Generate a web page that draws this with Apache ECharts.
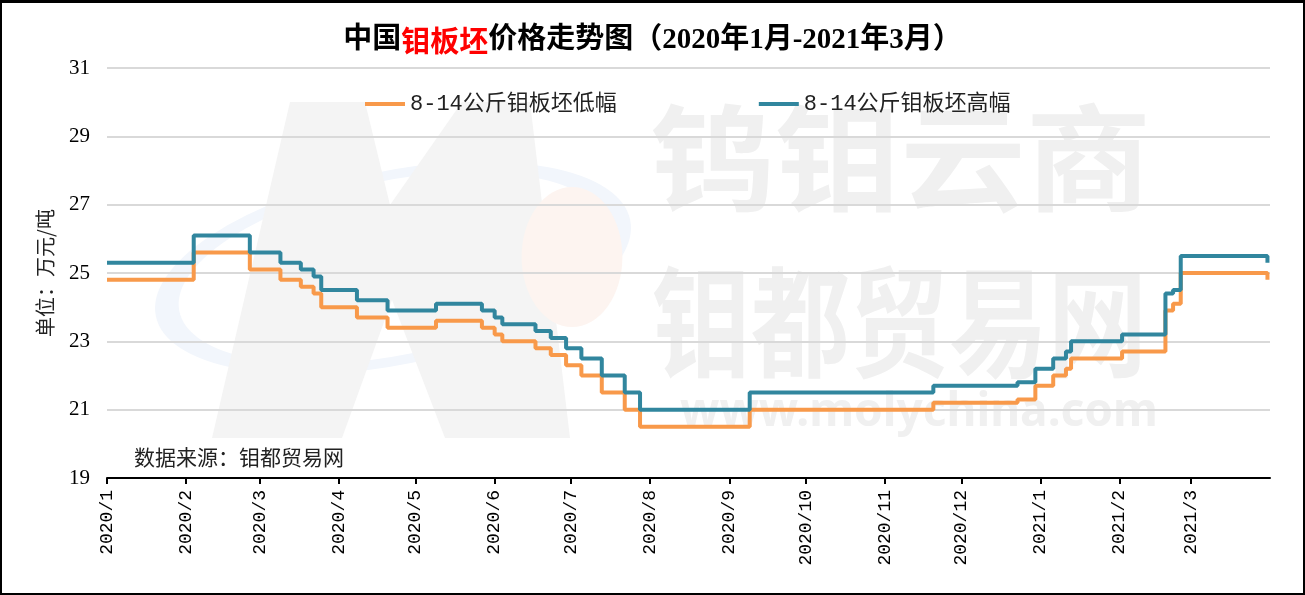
<!DOCTYPE html>
<html>
<head>
<meta charset="utf-8">
<script src="https://cdn.jsdelivr.net/npm/echarts@6/dist/echarts.min.js"></script>
<style>
html, body { margin: 0; padding: 0; background: #fff; }
#main { width: 1305px; height: 595px; }
#frame { position: absolute; left: 0; top: 0; width: 1305px; height: 595px; box-sizing: border-box; border: 2px solid #000; border-top-width: 3px; pointer-events: none; }
</style>
</head>
<body>
<div id="main"></div>
<div id="frame"></div>
<script>
// 价格变动日期（两条线共用）
var changeDates = [
    '2020-01-01', '2020-02-04', '2020-02-26', '2020-03-09', '2020-03-17', '2020-03-22',
    '2020-03-25', '2020-04-08', '2020-04-20', '2020-05-09', '2020-05-27', '2020-06-01',
    '2020-06-04', '2020-06-17', '2020-06-23', '2020-06-29', '2020-07-05', '2020-07-13',
    '2020-07-22', '2020-07-28', '2020-09-09', '2020-11-20', '2020-12-23', '2020-12-30',
    '2021-01-06', '2021-01-11', '2021-01-13', '2021-02-02', '2021-02-19', '2021-02-22',
    '2021-02-25', '2021-03-31'
];
// 8-14公斤钼板坯低幅
var lowValues = [
    24.8, 25.6, 25.1, 24.8, 24.6, 24.4,
    24.0, 23.7, 23.4, 23.6, 23.4, 23.2,
    23.0, 22.8, 22.6, 22.3, 22.0, 21.5,
    21.0, 20.5, 21.0, 21.2, 21.3, 21.7,
    22.0, 22.2, 22.5, 22.7, 23.9, 24.1,
    25.0, 24.8
];
// 8-14公斤钼板坯高幅
var highValues = [
    25.3, 26.1, 25.6, 25.3, 25.1, 24.9,
    24.5, 24.2, 23.9, 24.1, 23.9, 23.7,
    23.5, 23.3, 23.1, 22.8, 22.5, 22.0,
    21.5, 21.0, 21.5, 21.7, 21.8, 22.2,
    22.5, 22.7, 23.0, 23.2, 24.4, 24.5,
    25.5, 25.3
];
var monthTicks = [
    '2020-01-01', '2020-02-01', '2020-03-01', '2020-04-01', '2020-05-01', '2020-06-01',
    '2020-07-01', '2020-08-01', '2020-09-01', '2020-10-01', '2020-11-01', '2020-12-01',
    '2021-01-01', '2021-02-01', '2021-03-01'
];
var seriesNames = ['8-14公斤钼板坯低幅', '8-14公斤钼板坯高幅'];

var toTime = function (s) { return +echarts.time.parse(s); };
var tickTimes = monthTicks.map(toTime);

var chartDom = document.getElementById('main');
var myChart = echarts.init(chartDom);
var option;

var cjk = '"Noto Sans CJK SC"';

option = {
    backgroundColor: '#fff',
    animation: false,
    title: {
        left: 'center',
        top: 21,
        text: '{a|中国}{r|钼板坯}{a|价格走势图（2020年1月-2021年3月）}',
        textStyle: {
            rich: {
                a: { fontSize: 29, fontWeight: 'bold', color: '#000', fontFamily: '"Liberation Serif", ' + cjk },
                r: { fontSize: 29, fontWeight: 'bold', color: '#ff0000', fontFamily: cjk }
            }
        }
    },
    legend: {
        data: seriesNames,
        left: 360,
        top: 88,
        itemGap: 142,
        itemWidth: 40,
        itemHeight: 4,
        icon: 'rect',
        textStyle: { fontSize: 22, color: '#222', fontFamily: '"Liberation Mono", ' + cjk }
    },
    grid: { left: 107, right: 35, top: 68, bottom: 117 },
    xAxis: {
        type: 'value',
        min: toTime('2020-01-01'),
        max: toTime('2021-04-01'),
        axisLine: { lineStyle: { color: '#000', width: 2 } },
        axisTick: { show: true, customValues: tickTimes, length: 6, lineStyle: { color: '#000', width: 2 } },
        axisLabel: {
            customValues: tickTimes,
            rotate: 90,
            margin: 12,
            fontSize: 18,
            color: '#000',
            fontFamily: '"Liberation Mono"',
            formatter: function (v) {
                var d = new Date(v);
                return d.getFullYear() + '/' + (d.getMonth() + 1);
            }
        },
        splitLine: { show: false }
    },
    yAxis: {
        type: 'value',
        min: 19,
        max: 31,
        interval: 2,
        name: '单位：万元/吨',
        nameLocation: 'middle',
        nameRotate: 90,
        nameGap: 52,
        nameTextStyle: { fontSize: 20, color: '#222', fontFamily: cjk },
        axisLine: { show: false },
        axisTick: { show: false },
        axisLabel: { fontSize: 21, color: '#000', margin: 17, fontFamily: '"Liberation Serif"' },
        splitLine: { lineStyle: { color: '#d9d9d9', width: 2 } }
    },
    graphic: [
        {
            type: 'circle', z: -20, silent: true,
            x: 393, y: 268, scaleY: 0.4, rotation: 0.2,
            shape: { cx: 0, cy: 0, r: 230 },
            style: { fill: 'none', stroke: '#f2f6fc', lineWidth: 24 }
        },
        {
            type: 'polygon', z: -19, silent: true,
            shape: { points: [[212, 438], [290, 102], [365, 102], [390, 205], [462, 102], [530, 102], [570, 438], [445, 438], [392, 300], [342, 438]] },
            style: { fill: '#f4f4f4' }
        },
        {
            type: 'circle', z: -18, silent: true,
            x: 572, y: 257, scaleX: 0.72,
            shape: { cx: 0, cy: 0, r: 70 },
            style: { fill: '#fdf4f0' }
        },
        {
            type: 'text', z: -17, silent: true,
            x: 650, y: 100, scaleX: 1.08,
            style: { text: '钨钼云商', fontSize: 116, fontWeight: 'bold', fontFamily: cjk, fill: '#f0f0f0' }
        },
        {
            type: 'text', z: -17, silent: true,
            x: 652, y: 262, scaleY: 1.22,
            style: { text: '钼都贸易网', fontSize: 99, fontWeight: 'bold', fontFamily: cjk, fill: '#f0f0f0' }
        },
        {
            type: 'text', z: -17, silent: true,
            x: 680, y: 390,
            style: { text: 'www.molychina.com', fontSize: 46, fontWeight: 'bold', fontFamily: '"Noto Sans"', fill: '#f0f0f0' }
        },
        {
            type: 'text', z: 10, silent: true,
            x: 134, y: 457,
            style: { text: '数据来源：钼都贸易网', fontSize: 21, fontFamily: cjk, fill: '#222', verticalAlign: 'middle' }
        }
    ],
    series: [
        {
            name: seriesNames[0],
            type: 'line',
            step: 'end',
            showSymbol: false,
            color: '#F8994A',
            lineStyle: { width: 4, color: '#F8994A' },
            data: changeDates.map(function (d, i) { return [toTime(d), lowValues[i]]; })
        },
        {
            name: seriesNames[1],
            type: 'line',
            step: 'end',
            showSymbol: false,
            color: '#31869E',
            lineStyle: { width: 4, color: '#31869E' },
            data: changeDates.map(function (d, i) { return [toTime(d), highValues[i]]; })
        }
    ]
};

option && myChart.setOption(option);
</script>
</body>
</html>
